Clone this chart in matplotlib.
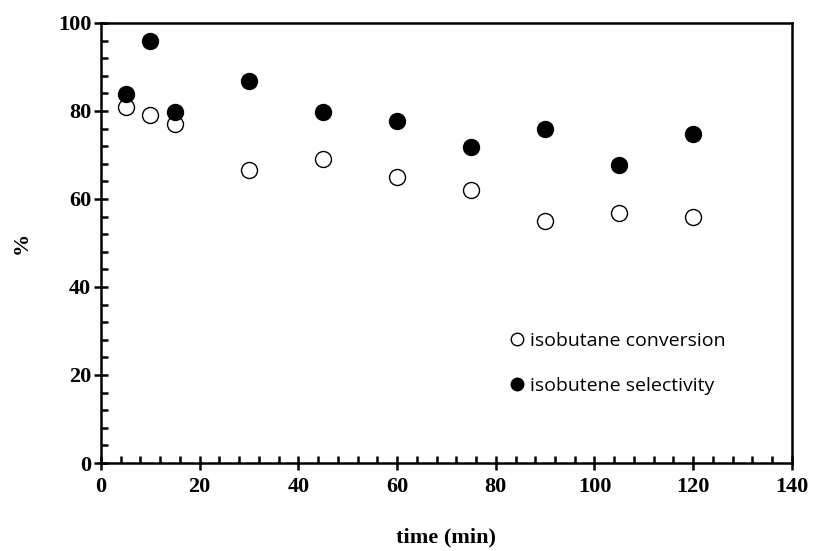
import matplotlib
matplotlib.use("Agg")
import matplotlib.pyplot as plt
from matplotlib.ticker import MultipleLocator
from matplotlib.lines import Line2D

time = [5, 10, 15, 30, 45, 60, 75, 90, 105, 120]
conversion = [80.8, 79, 77, 66.7, 69, 65, 62, 55, 56.8, 55.8]
selectivity = [83.8, 96, 79.8, 86.9, 79.8, 77.8, 71.8, 75.8, 67.8, 74.7]

serif = "Liberation Serif"

fig = plt.figure(figsize=(8.13, 5.51), dpi=100)
ax = fig.add_axes([0.1242, 0.1597, 0.8498, 0.7986])

ax.plot(time, conversion, "o", ms=11.5, mfc="white", mec="black", mew=1.0, clip_on=False)
ax.plot(time, selectivity, "o", ms=11.5, mfc="black", mec="black", clip_on=False)

ax.set_xlim(0, 140)
ax.set_ylim(0, 100)
ax.xaxis.set_major_locator(MultipleLocator(20))
ax.xaxis.set_minor_locator(MultipleLocator(4))
ax.yaxis.set_major_locator(MultipleLocator(20))
ax.yaxis.set_minor_locator(MultipleLocator(4))

for s in ax.spines.values():
    s.set_linewidth(1.8)
ax.tick_params(which="major", direction="inout", length=10, width=1.8, top=False, right=False)
ax.tick_params(which="minor", direction="in", length=5, width=1.8, top=False, right=False)

for label in ax.get_xticklabels() + ax.get_yticklabels():
    label.set_fontfamily(serif)
    label.set_fontweight("bold")
    label.set_fontsize(16)
ax.tick_params(axis="x", pad=5)
ax.tick_params(axis="y", pad=2)

ax.set_xlabel("time (min)", fontfamily=serif, fontweight="bold", fontsize=16, labelpad=22)
ax.set_ylabel("%", fontfamily=serif, fontweight="bold", fontsize=16, labelpad=19)

handles = [
    Line2D([], [], ls="none", marker="o", ms=9, mfc="white", mec="black", mew=1.0),
    Line2D([], [], ls="none", marker="o", ms=9, mfc="black", mec="black"),
]
ax.legend(handles, ["isobutane conversion", "isobutene selectivity"],
          loc="upper left", bbox_to_anchor=(0.578, 0.316), frameon=False,
          prop={"family": "Open Sans", "size": 14}, handletextpad=0.25,
          handlelength=0.9, labelspacing=1.4, borderaxespad=0)

fig.savefig("out.png", dpi=100)
